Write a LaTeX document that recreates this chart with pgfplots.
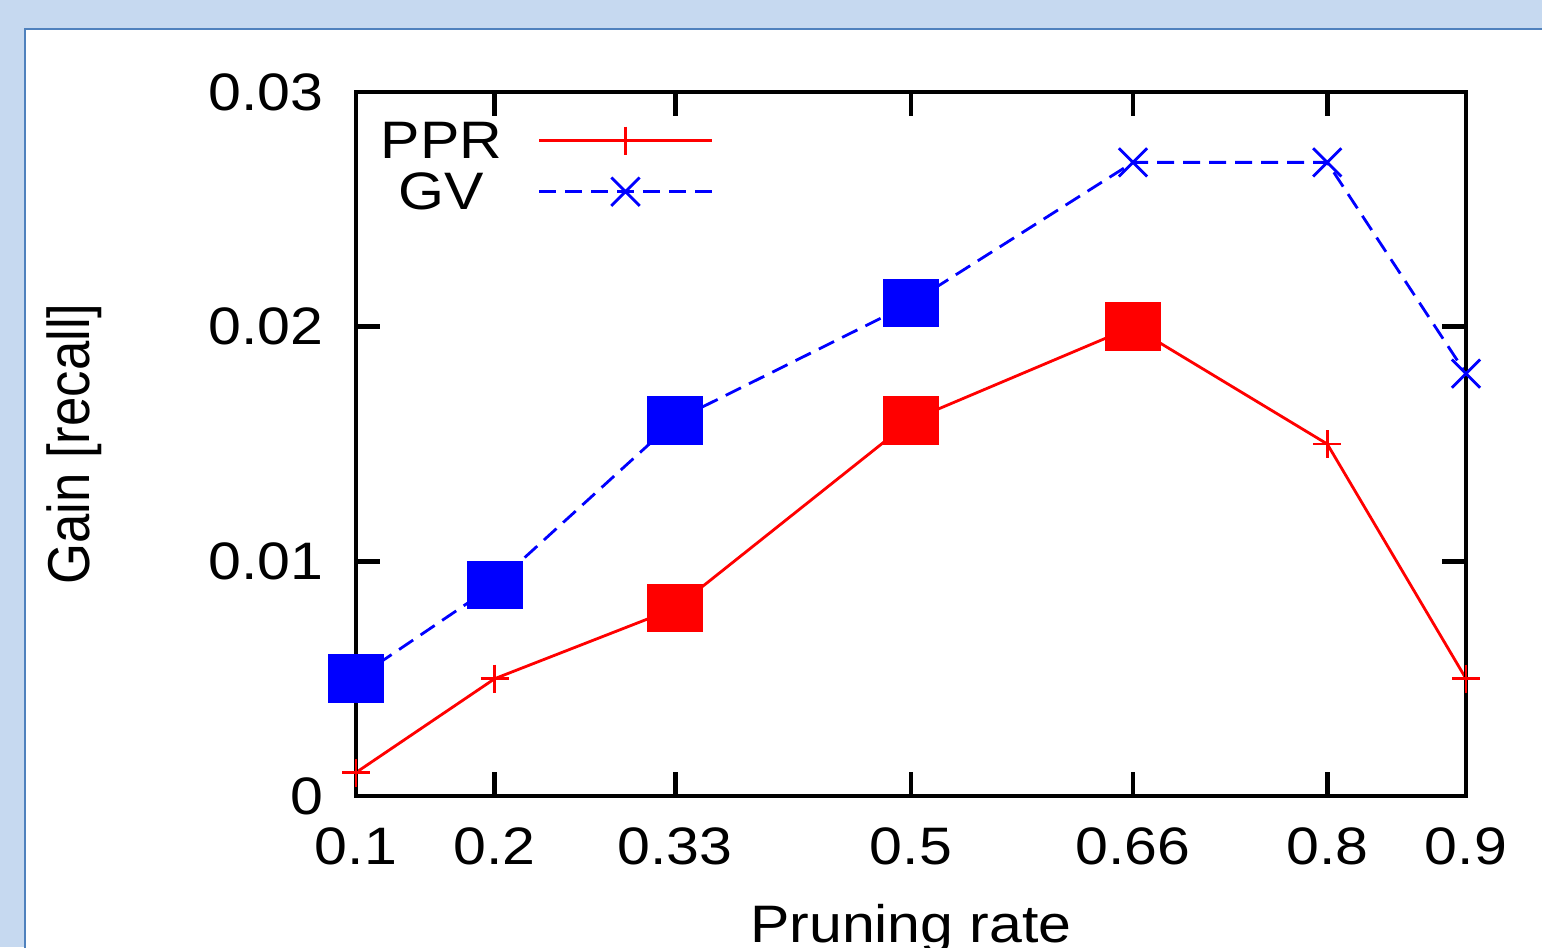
\documentclass[border=0pt]{standalone}
\usepackage{graphicx}
\usepackage{pgfplots}
\pgfplotsset{compat=1.18}
\usepackage{fontspec}
\setmainfont{Liberation Sans}
% gnuplot text in the screenshot is a bit wider than Helvetica
\newcommand\hs[1]{\scalebox{1.12}[1]{#1}}
\definecolor{slidebg}{RGB}{198,217,240}
\definecolor{frameblue}{RGB}{79,129,189}

\begin{document}
\begin{tikzpicture}[font=\fontsize{15}{18}\selectfont]
\useasboundingbox (0,0) rectangle (15.42,9.47);
\clip (0,0) rectangle (15.42,9.47);
\fill[slidebg] (0,0) rectangle (15.42,9.47);
\filldraw[fill=white, draw=frameblue, line width=0.02cm] (0.25,-0.5) rectangle (16,9.18);
\begin{axis}[
  scale only axis, width=11.10cm, height=7.04cm,
  at={(3.56cm,1.51cm)}, anchor=south west,
  xmin=0.1, xmax=0.9, ymin=0, ymax=0.03,
  xtick={0.1,0.2,0.33,0.5,0.66,0.8,0.9},
  xticklabels={\hs{0.1},\hs{0.2},\hs{0.33},\hs{0.5},\hs{0.66},\hs{0.8},\hs{0.9}},
  ytick={0,0.01,0.02,0.03},
  yticklabels={\hs{0},\hs{0.01},\hs{0.02},\hs{0.03}},
  scaled y ticks=false,
  axis on top,
  axis line style={line width=1.4pt},
  every tick/.style={black, line width=1.4pt},
  major tick length=0.24cm,
  xticklabel style={yshift=-0.19cm},
  yticklabel style={xshift=-0.2cm},
  xlabel={\hs{Pruning rate}},
  xlabel style={at={(axis description cs:0.5,0)}, anchor=base, yshift=-1.46cm},
  ylabel={\scalebox{1}[1.12]{Gain [recall]}},
  ylabel style={at={(axis description cs:-0.254,0.5)}, anchor=center},
  legend plot pos=right,
  legend cell align=center,
  legend style={at={(axis description cs:0.0216,0.968)}, anchor=north west,
    draw=none, fill=none, inner sep=0pt, row sep=0pt,
    nodes={inner sep=0pt, text height=0.435cm, text depth=0.075cm},
    /tikz/every odd column/.append style={column sep=0.36cm}},
  legend image code/.code={\draw[mark repeat=2,mark phase=2,#1] plot coordinates {(0cm,0cm) (0.86cm,0cm) (1.72cm,0cm)};},
]
\addplot[red, line width=0.8pt, mark=+, mark size=0.14cm, mark options={solid}]
  coordinates {(0.1,0.001) (0.2,0.005) (0.33,0.008) (0.5,0.016) (0.66,0.020) (0.8,0.015) (0.9,0.005)};
\addlegendentry{\hs{PPR}}
\addplot[blue, line width=0.8pt, dash pattern=on 0.17cm off 0.09cm, mark=x, mark size=0.2cm, mark options={solid}]
  coordinates {(0.1,0.005) (0.2,0.009) (0.33,0.016) (0.5,0.021) (0.66,0.027) (0.8,0.027) (0.9,0.018)};
\addlegendentry{\hs{GV}}
% highlighted points
\addplot[blue, only marks, forget plot, mark=square*, mark size=0.235cm, mark options={solid, xscale=1.17, draw=none}]
  coordinates {(0.1,0.005) (0.2,0.009) (0.33,0.016) (0.5,0.021)};
\addplot[red, only marks, forget plot, mark=square*, mark size=0.235cm, mark options={solid, xscale=1.17, draw=none}]
  coordinates {(0.33,0.008) (0.5,0.016) (0.66,0.020)};
\end{axis}
\end{tikzpicture}
\end{document}
